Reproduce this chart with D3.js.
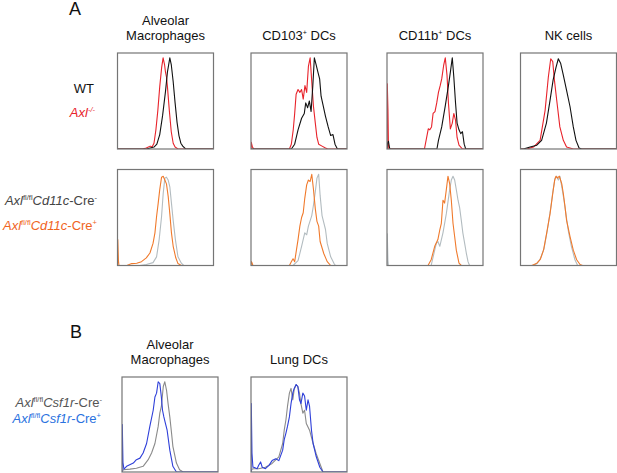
<!DOCTYPE html>
<html>
<head>
<meta charset="utf-8">
<script src="https://cdn.jsdelivr.net/npm/d3@7"></script>
<style>
  html, body { margin: 0; padding: 0; background: #fff; }
  svg { display: block; }
  text { font-family: "Liberation Sans", Arial, Helvetica, sans-serif; }
</style>
</head>
<body>
<svg id="chart" width="617" height="473"></svg>
<script>
// ---------- DATA (x = fluorescence channel, % of axis; y = % of max) ----------
const panelTitlesA = [["Alveolar", "Macrophages"], ["CD103|+| DCs"], ["CD11b|+| DCs"], ["NK cells"]];
const panelTitlesB = [["Alveolar", "Macrophages"], ["Lung DCs"]];

// Row A1: WT (black) vs Axl-/- (red)
const amKO = [[0,0],[26,0],[30,1],[34,3],[36,2],[38,6],[40,20],[42,40],[44,65],[46,85],[47.5,95],[49,88],[50,80],[51,75],[52,65],[54,40],[56,18],[58,6],[60,2],[63,0],[100,0]];
const amWT = [[0,0],[30,0],[34,1],[38,2],[41,5],[44,15],[47,35],[50,60],[52,80],[54.5,95],[56,88],[58,70],[60,48],[62,28],[64,14],[66,6],[68,3],[71,0],[100,0]];
const cd103KO = [[0,0],[0.3,7],[1.5,2],[3,0],[40,0],[42,5],[44,20],[45.5,37],[47,57],[49,62],[50.9,59],[52.7,62],[54.4,52],[56.2,66],[58,59],[59.8,86],[61.6,95],[63.3,70],[65,45],[67,27],[68.7,12],[70.5,5],[74,3],[77.6,1],[80,0],[100,0]];
const cd103WT = [[0,0],[42,0],[45.5,5],[49,20],[52.7,32],[55.5,37],[57,48],[59,43],[60.8,50],[62.6,39],[64.4,66],[66,95],[68,87],[69.7,80],[71.5,73],[73,55],[75,46],[77.6,34],[80.4,23],[83,14],[85.4,15],[87.5,5],[90,0],[100,0]];
const cd11bKO = [[0,0],[0.3,68],[1,40],[1.5,5],[2,0],[39,0],[43,21],[44.6,20],[46.4,23],[48,37],[50,39],[51.8,48],[53.6,59],[55.4,66],[57,73],[59,87],[60.7,95],[62.5,77],[64,48],[66,21],[68,27],[69.6,37],[71.4,30],[73,12],[75,4],[78.6,0],[100,0]];
const cd11bWT = [[0,0],[0.5,6],[1.5,8],[2.5,2],[3,0],[52,0],[53.6,9],[57,23],[60.7,45],[64,66],[66,80],[68,95],[69.6,75],[71.4,48],[73,27],[75,20],[76.8,16],[78.6,18],[80.4,5],[82,0],[100,0]];
const nkKO = [[0,0],[6.6,0],[13.5,2],[20.4,9],[25.6,40],[29,75],[31.5,94],[33.6,91],[35.3,72],[37.7,51],[41,23],[44.6,9],[48,2],[55,0],[100,0]];
const nkWT = [[0,0],[3,0],[10,2],[17,4],[22,9],[27,27],[30.8,51],[34,72],[37,85],[39.4,94],[41.9,89],[44.6,77],[48,61],[51.6,44],[55,23],[57.8,9],[61,1],[63.7,0],[100,0]];

// Row A2: Axl fl/fl Cd11c-Cre- (grey) vs Cre+ (orange)
const amCreNeg = [[0,0],[23.4,0],[30,1],[37,3],[40.7,9],[43.4,27],[45.9,51],[47.6,75],[49.3,91],[51,92],[52.8,89],[54.5,82],[56.2,65],[58,47],[60.3,27],[63,9],[66.5,2.4],[69,0],[100,0]];
const amCrePos = [[0,0],[0.3,27],[1,5],[1.5,0],[9.7,0],[14.8,2],[20,2.4],[25,4],[30,8],[33.8,13],[37,23],[39,34],[40.7,51],[42.4,65],[44,79],[45.9,92],[47.6,93],[49.3,89],[51,85],[52.8,72],[54.5,54],[56.2,34],[58,20],[60.7,8],[63,2],[66.5,0],[100,0]];
const cd103CreNeg = [[0,0],[43.8,0],[49,5],[52.7,20],[56,34],[58,32],[59.8,41],[63.3,52],[65,62.5],[67,77],[68.7,91],[70.5,95],[72,73],[74,52],[77.6,37.5],[79.4,23],[83,9],[86.5,2],[88,0],[100,0]];
const cd103CrePos = [[0,0],[0.3,4],[1,3],[2,0],[40,0],[42,4],[43.8,7],[45.5,4],[47.3,16],[49,27],[50.9,41],[52.7,50],[54.4,55],[56,70],[58,84],[59.8,89],[61.6,87.5],[63.3,95],[65,80],[67,59],[68.7,46],[70.5,41],[72,25],[75.8,12.5],[79.4,4],[83,0],[100,0]];
const cd11bCreNeg = [[0,0],[0.3,33],[1,5],[1.5,0],[46,0],[49.7,16],[51.4,23],[53,25],[55,20],[58.3,34],[61.8,54],[65.3,79],[67,89],[68.75,93],[70.5,89],[72.2,79],[74,68],[75.7,60],[77.4,47],[79,34],[80.9,23],[82.6,13],[84.4,4],[86,0],[100,0]];
const cd11bCrePos = [[0,0],[42.7,0],[46,6],[49.7,20],[53,27],[55,37],[56.6,44],[58.3,68],[60,65],[61.8,79],[63.5,93],[65.3,85],[67,68],[68.75,44],[70.5,30],[72.2,16],[75,2.4],[77.4,0],[100,0]];
const nkCreNeg = [[0,0],[13.5,0],[17.6,2.4],[21,7.6],[24.6,18],[28,37],[31.5,60],[34,79],[36,91],[37.7,93],[39.4,89],[41,93],[43,82],[45.3,68],[47.4,53],[50,35],[53,20],[56.7,6],[59.5,0],[100,0]];
const nkCrePos = [[0,0],[11.8,0],[17,2.4],[20.4,6],[24,16],[27.3,34],[30.8,54],[33.6,75],[35.6,89],[37,93],[38.4,91],[40.5,93],[43,85],[44.6,75],[46.4,61],[48,47],[51.6,30],[55,16],[58.5,6],[62,1],[64.7,0],[100,0]];

// Row B: Axl fl/fl Csf1r-Cre- (grey) vs Cre+ (blue)
const bAmCreNeg = [[0,0],[1.4,2.4],[8.3,3],[15,4],[22,6],[27.3,13],[30.8,20],[34.3,30],[37.7,48],[39.4,62],[41,69],[43,90],[44.6,95],[46.4,86],[48,72],[49.8,58],[51.6,41],[53,27],[56.7,9.4],[60,2.4],[63.7,0],[100,0]];
const bAmCrePos = [[0,0],[0.3,50],[1,10],[2,3],[4.8,6],[11.8,9.4],[15,13],[18.7,14.6],[22,20],[25.6,30],[29,48],[32.5,65],[34.3,79],[36,83],[37.7,95],[39.4,93],[41,79],[42.2,65],[43.6,58],[45.3,51],[47,44],[49.8,23],[53,6],[56.7,0],[100,0]];
const dcCreNeg = [[0,0],[1,3],[2.8,3.5],[8,3.5],[15,5],[22,9],[29,16],[33,30],[34.6,44],[36.4,55],[38,69],[40,83],[41.7,88],[43.5,76],[45,87],[47,92],[48.8,90],[50.5,83],[52,72],[54,62],[55.8,65],[57.6,51],[61,44],[64.7,30],[68,19],[71.7,9],[75,0],[100,0]];
const dcCrePos = [[0,0],[0.3,72],[1,20],[2,5],[2.8,5],[6.4,3.5],[8,7],[10,10.6],[11.7,5],[15,3.5],[18.7,7],[22,12],[25.8,14],[29,12],[33,23],[34.6,34],[36.4,41],[38,48],[40,58],[41.7,72],[43.5,83],[45,88],[47,92],[48.8,90],[50.5,76],[52,72],[54,83],[55.8,80],[57.6,65],[59.4,76],[61,69],[63,44],[64.7,30],[68,16],[71.7,5],[75,0],[100,0]];

// ---------- STYLE ----------
const C = {
  black: "#111111", red: "#e8232b",
  grey: "#b3bcc0", orange: "#f07a2c",
  greyB: "#8a8a8a", blue: "#2e3fd9",
  frame: "#757575"
};

// ---------- LAYOUT ----------
const colA = [117.5, 251, 387, 520.5];
const pw = 96;
const rowA1 = [53, 149];
const rowA2 = [169.5, 265.5];
const colB = [122, 251];
const rowB = [377, 472];

const panels = [
  {x: colA[0], y: rowA1, series: [[amKO, C.red], [amWT, C.black]]},
  {x: colA[1], y: rowA1, series: [[cd103KO, C.red], [cd103WT, C.black]]},
  {x: colA[2], y: rowA1, series: [[cd11bKO, C.red], [cd11bWT, C.black]]},
  {x: colA[3], y: rowA1, series: [[nkKO, C.red], [nkWT, C.black]]},
  {x: colA[0], y: rowA2, series: [[amCreNeg, C.grey], [amCrePos, C.orange]]},
  {x: colA[1], y: rowA2, series: [[cd103CreNeg, C.grey], [cd103CrePos, C.orange]]},
  {x: colA[2], y: rowA2, series: [[cd11bCreNeg, C.grey], [cd11bCrePos, C.orange]]},
  {x: colA[3], y: rowA2, series: [[nkCreNeg, C.grey], [nkCrePos, C.orange]]},
  {x: colB[0], y: rowB, series: [[bAmCreNeg, C.greyB], [bAmCrePos, C.blue]]},
  {x: colB[1], y: rowB, series: [[dcCreNeg, C.greyB], [dcCrePos, C.blue]]}
];

const svg = d3.select("#chart");
const defs = svg.append("defs");

panels.forEach((p, i) => {
  const x = d3.scaleLinear().domain([0, 100]).range([p.x, p.x + pw]);
  const y = d3.scaleLinear().domain([0, 100]).range([p.y[1], p.y[0]]);
  defs.append("clipPath").attr("id", "clip" + i)
    .append("rect").attr("x", p.x).attr("y", p.y[0]).attr("width", pw).attr("height", p.y[1] - p.y[0]);
  const g = svg.append("g").attr("clip-path", `url(#clip${i})`);
  const line = d3.line().x(d => x(d[0])).y(d => y(d[1]));
  p.series.forEach(([data, col]) => {
    g.append("path").datum(data).attr("d", line)
      .attr("fill", "none").attr("stroke", col).attr("stroke-width", 1.1)
      .attr("stroke-linejoin", "round");
  });
  svg.append("rect").attr("x", p.x).attr("y", p.y[0])
    .attr("width", pw).attr("height", p.y[1] - p.y[0])
    .attr("fill", "none").attr("stroke", C.frame).attr("stroke-width", 1.2);
});

// ---------- TEXT ----------
function richText(sel, str, opts) {
  // segments separated by |; odd segments are superscripts
  const t = sel.append("text").attr("x", opts.x).attr("y", opts.y)
    .attr("text-anchor", opts.anchor || "middle")
    .attr("font-size", opts.size || 13).attr("fill", opts.fill || "#111");
  const parts = str.split("|");
  parts.forEach((s, k) => {
    if (!s) return;
    const ts = t.append("tspan").text(s);
    if (k % 2 === 1) {
      ts.attr("font-size", (opts.size || 13) * 0.55).attr("dy", -5);
    } else if (k > 0) {
      ts.attr("dy", 5);
    }
  });
  return t;
}

function legend(sel, segs, x, y, fill) {
  // segs: [text, italic, superscript]
  const t = sel.append("text").attr("x", x).attr("y", y)
    .attr("text-anchor", "end").attr("font-size", 13).attr("fill", fill);
  let up = false;
  segs.forEach(([s, it, sup]) => {
    const ts = t.append("tspan").text(s);
    if (it) ts.attr("font-style", "italic");
    if (sup && !up) { ts.attr("font-size", 7.5).attr("dy", -5); up = true; }
    else if (sup) { ts.attr("font-size", 7.5); }
    else if (up) { ts.attr("dy", 5); up = false; }
  });
}

svg.append("text").attr("x", 69).attr("y", 15).attr("font-size", 18).attr("fill", "#111").text("A");
svg.append("text").attr("x", 70).attr("y", 338).attr("font-size", 18).attr("fill", "#111").text("B");

panelTitlesA.forEach((lines, i) => {
  const cx = colA[i] + pw / 2;
  if (lines.length === 2) {
    richText(svg, lines[0], {x: cx, y: 25});
    richText(svg, lines[1], {x: cx, y: 40});
  } else {
    richText(svg, lines[0], {x: cx, y: 40});
  }
});
panelTitlesB.forEach((lines, i) => {
  const cx = colB[i] + pw / 2;
  if (lines.length === 2) {
    richText(svg, lines[0], {x: cx, y: 349});
    richText(svg, lines[1], {x: cx, y: 364});
  } else {
    richText(svg, lines[0], {x: cx, y: 364});
  }
});

legend(svg, [["WT", false, false]], 94, 93, "#111");
legend(svg, [["Axl", true, false], ["-/-", true, true]], 95, 117, C.red);
legend(svg, [["Axl", true, false], ["fl/fl", false, true], ["Cd11c", true, false], ["-Cre", false, false], ["-", false, true]], 97, 205, "#444");
legend(svg, [["Axl", true, false], ["fl/fl", false, true], ["Cd11c", true, false], ["-Cre", false, false], ["+", false, true]], 97, 230, "#f0641e");
legend(svg, [["Axl", true, false], ["fl/fl", false, true], ["Csf1r", true, false], ["-Cre", false, false], ["-", false, true]], 102, 407, "#555");
legend(svg, [["Axl", true, false], ["fl/fl", false, true], ["Csf1r", true, false], ["-Cre", false, false], ["+", false, true]], 101, 423, "#2a72e0");
</script>
</body>
</html>
